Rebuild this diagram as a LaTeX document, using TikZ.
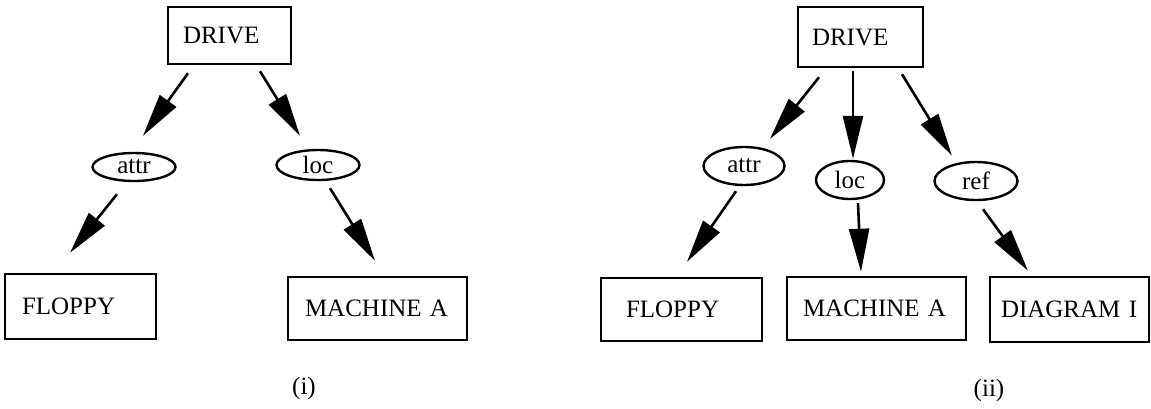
\documentclass[tikz,border=0pt]{standalone}
\usepackage{fontspec}
\setmainfont{Liberation Serif}
\usetikzlibrary{arrows.meta,shapes.geometric}

\tikzset{
  txt/.style={font=\fontsize{25}{30}\selectfont},
  box/.style={txt, draw, line width=2.5pt, rectangle, inner ysep=0pt, align=left},
  rel/.style={txt, draw, line width=2.4pt, ellipse, inner sep=0pt},
  link/.style={line width=2.6pt, -{Triangle[length=43pt,width=20pt]}},
}

\begin{document}
\begin{tikzpicture}[x=1pt,y=-1pt]
\useasboundingbox (0,0) rectangle (1151,408);

% ---- (i) ----
\node[box, text width=93pt, inner xsep=15pt, minimum height=57pt] (drive1) at (229.5,35.5) {\mbox{DRIVE}};
\node[rel, minimum width=83pt, minimum height=28pt] (attr1) at (134,167) {attr};
\node[rel, minimum width=83pt, minimum height=30pt] (loc1) at (318,165) {loc};
\node[box, text width=117pt, inner xsep=17pt, minimum height=65pt] (floppy1) at (80.5,306.5) {\mbox{FLOPPY}};
\node[box, text width=145pt, inner xsep=17pt, minimum height=63pt] (machine1) at (377.5,308.5) {\mbox{MACHINE A}};
\node[txt] (cap1) at (304,388) {(i)};

\draw[link] ([xshift=-41.5pt,yshift=-8pt]drive1.south) -- ([xshift=9pt,yshift=16pt]attr1.north);
\draw[link] ([xshift=30.5pt,yshift=-6pt]drive1.south) -- ([xshift=-18pt,yshift=13pt]loc1.north);
\draw[link] ([xshift=-17pt,yshift=-12pt]attr1.south) -- ([xshift=-10.5pt,yshift=20pt]floppy1.north);
\draw[link] ([xshift=12pt,yshift=-7pt]loc1.south) -- ([xshift=-2.5pt,yshift=15pt]machine1.north);

% ---- (ii) ----
\node[box, text width=97pt, inner xsep=14pt, minimum height=60pt] (drive2) at (860.5,37) {\mbox{DRIVE}};
\node[rel, minimum width=81pt, minimum height=38pt] (attr2) at (744,166) {attr};
\node[rel, minimum width=68pt, minimum height=38pt] (loc2) at (850,180) {loc};
\node[rel, minimum width=83pt, minimum height=38pt] (ref2) at (976,181) {ref};
\node[box, text width=111pt, inner xsep=25pt, minimum height=63pt] (floppy2) at (681.5,309.5) {\mbox{FLOPPY}};
\node[box, text width=147pt, inner xsep=16pt, minimum height=63pt] (machine2) at (876.5,308.5) {\mbox{MACHINE A}};
\node[box, text width=137pt, inner xsep=11pt, minimum height=65pt] (diagram2) at (1069.5,309.5) {\mbox{DIAGRAM I}};
\node[txt] (cap2) at (989,390) {(ii)};

\draw[link] ([xshift=-41.5pt,yshift=-9pt]drive2.south) -- ([xshift=26pt,yshift=7pt]attr2.north);
\draw[link] ([xshift=-7.5pt,yshift=-3pt]drive2.south) -- ([xshift=3pt,yshift=1pt]loc2.north);
\draw[link] ([xshift=41.5pt,yshift=-6pt]drive2.south) -- ([xshift=-24pt,yshift=5pt]ref2.north);
\draw[link] ([xshift=-8pt,yshift=-5pt]attr2.south) -- ([xshift=5.5pt,yshift=15pt]floppy2.north);
\draw[link] ([xshift=8pt,yshift=-3pt]loc2.south) -- ([xshift=-15.5pt,yshift=4pt]machine2.north);
\draw[link] ([xshift=7pt,yshift=-8pt]ref2.south) -- ([xshift=-41.5pt,yshift=5pt]diagram2.north);
\end{tikzpicture}
\end{document}
